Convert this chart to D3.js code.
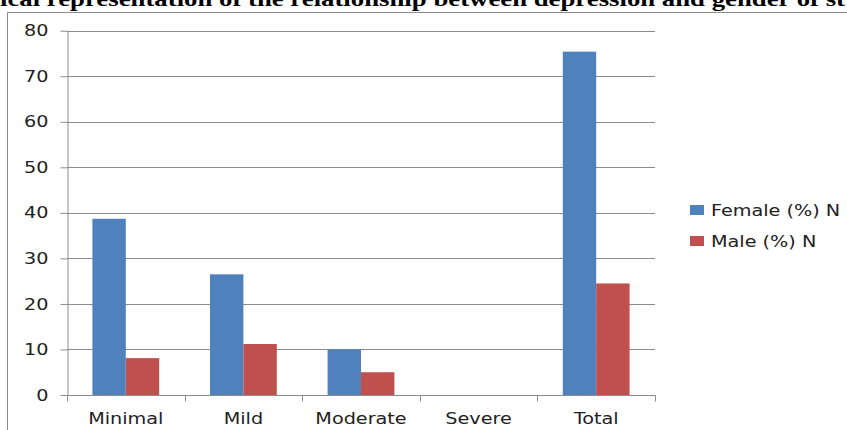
<!DOCTYPE html>
<html lang="en">
<head>
    <meta charset="UTF-8">
    <title>Depression and gender</title>
    <script src="https://d3js.org/d3.v7.js"></script>
    <style>
        body { margin: 0; background: #fff; }
        text { font-family: "DejaVu Sans", sans-serif; fill: #222; }
        .grid line { stroke: #8c8c8c; stroke-width: 1px; }
        .axis path, .axis line { stroke: #8c8c8c; }
    </style>
</head>
<body>
<svg width="847" height="430"></svg>
<script>
    // data
    let categories = ["Minimal", "Mild", "Moderate", "Severe", "Total"];
    let seriesNames = ["Female (%) N", "Male (%) N"];
    let female = [38.7, 26.5, 10.0, 0, 75.4];
    let male = [8.1, 11.2, 5.0, 0, 24.5];
    let yTicks = [0, 10, 20, 30, 40, 50, 60, 70, 80];
    let colors = ["#4f81bd", "#c0504d"];

    let svg = d3.select("svg");
    let plotLeft = 67, plotRight = 655, plotTop = 30.7, plotBottom = 395;

    // stretch text horizontally like the scanned figure
    let stretch = function (sel, k) {
        sel.each(function () {
            let w = this.getComputedTextLength();
            d3.select(this).attr("textLength", w * k).attr("lengthAdjust", "spacingAndGlyphs");
        });
    };

    // outer frame
    svg.append("path")
        .attr("d", "M7.5,430 V12.5 H847")
        .attr("fill", "none")
        .attr("stroke", "#8c8c8c");

    // clipped title
    svg.append("text")
        .attr("x", 0)
        .attr("y", 6)
        .style("font-family", "'Liberation Serif', serif")
        .style("font-weight", "bold")
        .style("font-size", "22px")
        .style("fill", "#000")
        .attr("textLength", 845)
        .attr("lengthAdjust", "spacingAndGlyphs")
        .text("ical representation of the relationship between depression and gender of st");

    let y = d3.scaleLinear().domain([0, 80]).range([plotBottom, plotTop]);
    let x0 = d3.scaleBand().domain(categories).range([plotLeft, plotRight])
        .paddingInner(0.432).paddingOuter(0.216);
    let x1 = d3.scaleBand().domain(seriesNames).range([0, x0.bandwidth()]);

    // gridlines
    svg.append("g")
        .attr("class", "grid")
        .selectAll("line")
        .data(yTicks.slice(1))
        .join("line")
        .attr("x1", plotLeft).attr("x2", plotRight)
        .attr("y1", d => Math.round(y(d)) + 0.5)
        .attr("y2", d => Math.round(y(d)) + 0.5);

    // y axis
    let yAxis = svg.append("g")
        .attr("class", "axis")
        .attr("transform", "translate(" + (plotLeft + 0.5) + ",0)")
        .call(d3.axisLeft(y).tickValues(yTicks).tickSize(7).tickSizeOuter(0).tickPadding(12));
    yAxis.selectAll("text")
        .style("font-size", "16px")
        .call(stretch, 1.2);

    // bars
    let data = categories.map((c, i) => ({cat: c, vals: [female[i], male[i]]}));
    let groups = svg.selectAll(".barGroup")
        .data(data)
        .join("g")
        .classed("barGroup", true)
        .attr("transform", d => "translate(" + x0(d.cat) + ",0)");
    groups.selectAll("rect")
        .data(d => d.vals.map((v, j) => ({name: seriesNames[j], v: v, j: j})))
        .join("rect")
        .attr("x", d => x1(d.name))
        .attr("width", x1.bandwidth())
        .attr("y", d => y(d.v))
        .attr("height", d => plotBottom - y(d.v))
        .attr("fill", d => colors[d.j]);

    // x axis
    let xSpan = d3.scalePoint().domain(d3.range(categories.length + 1)).range([plotLeft, plotRight]);
    let xAxis = svg.append("g")
        .attr("class", "axis")
        .attr("transform", "translate(0," + (plotBottom + 0.5) + ")");
    xAxis.append("line")
        .attr("x1", plotLeft).attr("x2", plotRight + 0.5)
        .attr("stroke", "#8c8c8c");
    xAxis.selectAll(".tk")
        .data(d3.range(categories.length + 1))
        .join("line")
        .attr("class", "tk")
        .attr("x1", d => Math.round(xSpan(d)) + 0.5)
        .attr("x2", d => Math.round(xSpan(d)) + 0.5)
        .attr("y1", 0).attr("y2", 6);
    xAxis.selectAll(".lbl")
        .data(categories)
        .join("text")
        .attr("class", "lbl")
        .attr("x", d => x0(d) + x0.bandwidth() / 2)
        .attr("y", 28)
        .attr("text-anchor", "middle")
        .style("font-size", "16px")
        .text(d => d)
        .call(stretch, 1.2);

    // legend
    let legend = svg.selectAll(".legendItem")
        .data(seriesNames)
        .join("g")
        .classed("legendItem", true)
        .attr("transform", (d, i) => "translate(690," + (205 + i * 31) + ")");
    legend.append("rect")
        .attr("width", 14).attr("height", 10)
        .attr("fill", (d, i) => colors[i]);
    legend.append("text")
        .attr("x", 21)
        .attr("y", 11)
        .style("font-size", "16px")
        .text(d => d)
        .call(stretch, 1.2);
</script>
</body>
</html>
